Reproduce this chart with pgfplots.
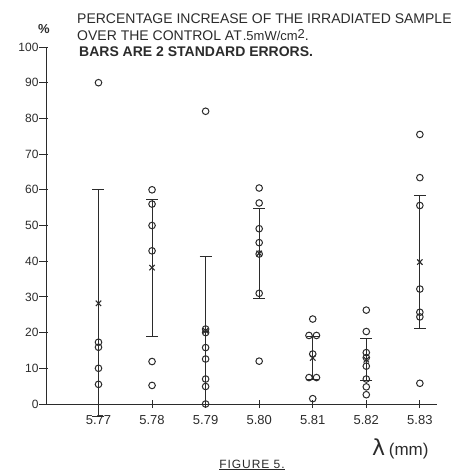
\documentclass[border=0pt]{standalone}
\usepackage{fontspec}
\setmainfont{Liberation Sans}
\newfontfamily\dejavu{DejaVu Sans}
\usepackage{pgfplots}
\pgfplotsset{compat=1.18}
\definecolor{ink}{HTML}{2B2B2B}
\begin{document}
\begin{tikzpicture}
\useasboundingbox (-46pt,-69pt) rectangle (420pt,404pt);
\begin{axis}[
  at={(0,0)}, anchor=south west,
  width=391pt, height=357pt, scale only axis,
  xmin=5.7602, xmax=5.8332, ymin=0, ymax=100,
  axis x line=bottom, axis y line=left,
  axis line style={-, ink, line width=0.9pt},
  xtick={5.77,5.78,5.79,5.80,5.81,5.82,5.83},
  xticklabels={5.77,5.78,5.79,5.80,5.81,5.82,5.83},
  ytick={0,10,...,100},
  tick align=center, major tick length=8pt,
  x tick style={ink, line width=0.9pt},
  y tick style={ink, line width=0.9pt, xshift=-2.5pt},
  x tick label style={font=\fontsize{13}{13}\selectfont, text=ink, yshift=-4pt},
  y tick label style={font=\fontsize{12}{12}\selectfont, text=ink},
  /pgf/number format/assume math mode=true,
  clip=false,
]
% individual measurements
\addplot[only marks, mark=o, mark size=3.3pt, ink, mark options={line width=1pt}] coordinates {
  (5.77,90) (5.77,17.3) (5.77,15.9) (5.77,10) (5.77,5.5)
  (5.78,60) (5.78,56) (5.78,50) (5.78,42.9) (5.78,11.9) (5.78,5.2)
  (5.79,82) (5.79,21) (5.79,20) (5.79,15.8) (5.79,12.6) (5.79,7) (5.79,4.9) (5.79,0)
  (5.80,60.5) (5.80,56.3) (5.80,49.1) (5.80,45.2) (5.80,42) (5.80,31) (5.80,12)
  (5.81,23.8) (5.8093,19.2) (5.8107,19.2) (5.81,14) (5.8093,7.4) (5.8107,7.4) (5.81,1.5)
  (5.82,26.3) (5.82,20.3) (5.82,14.4) (5.82,13) (5.82,10.6) (5.82,7) (5.82,4.8) (5.82,2.6)
  (5.83,75.5) (5.83,63.4) (5.83,55.6) (5.83,32.2) (5.83,25.7) (5.83,24.4) (5.83,5.8)
};
% means with 2 standard errors
\addplot[only marks, mark=x, mark size=3.8pt, ink, mark options={line width=1.1pt},
  error bars/.cd, y dir=both, y explicit,
  error bar style={ink, line width=0.9pt},
  error mark options={ink, line width=0.9pt, mark size=6pt, rotate=90}] coordinates {
  (5.77,28.2) +- (0,31.8)
  (5.78,38.2) +- (0,19.2)
  (5.79,20.5) +- (0,20.7)
  (5.80,42.2) +- (0,12.5)
  (5.81,12.9) +- (0,6.1)
  (5.82,12.4) +- (0,5.9)
  (5.83,39.75) +- (0,18.7)
};
\end{axis}
\node[anchor=base west, text=ink, font=\fontsize{14}{14}\selectfont, inner sep=0pt] at (31pt,380pt) {PERCENTAGE INCREASE OF THE IRRADIATED SAMPLE};
\node[anchor=base west, text=ink, font=\fontsize{14}{14}\selectfont, inner sep=0pt] at (31pt,363pt) {OVER THE CONTROL AT\hspace{1pt}{\fontsize{13}{13}\selectfont .5mW/cm}\raisebox{2.5pt}{\fontsize{13}{13}\selectfont 2}.};
\node[anchor=base west, text=ink, font=\fontsize{14}{14}\selectfont\bfseries, inner sep=0pt] at (33pt,347pt) {BARS ARE 2 STANDARD ERRORS.};
\node[anchor=base, text=ink, font=\fontsize{13}{13}\selectfont\bfseries, inner sep=0pt] at (-2pt,370pt) {\%};
\node[anchor=base west, text=ink, inner sep=0pt] at (326pt,-51pt) {\fontsize{22}{22}\selectfont{\dejavu λ}\,\fontsize{17}{17}\selectfont(mm)};
\node[anchor=base, text=ink, inner sep=0pt, font=\fontsize{12}{12}\selectfont] at (206pt,-64pt) {\addfontfeatures{LetterSpace=8}\underline{FIGURE 5.}};
\end{tikzpicture}
\end{document}
